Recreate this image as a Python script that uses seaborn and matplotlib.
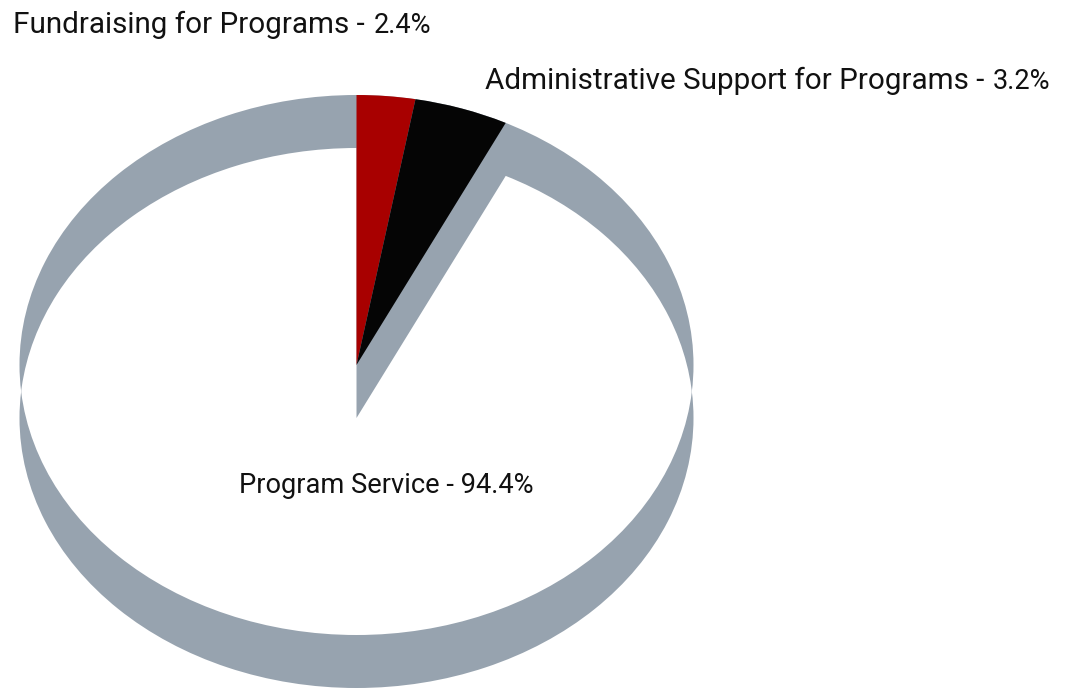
import matplotlib
matplotlib.use("Agg")
import matplotlib.pyplot as plt
from matplotlib.patches import Circle
import seaborn as sns

categories = ["Fundraising for Programs", "Administrative Support for Programs", "Program Service"]
labelled_values = ["2.4%", "3.2%", "94.4%"]
drawn_shares = [2.8, 4.5, 92.7]
colors = ["#A80000", "#050505", "#FFFFFF"]
band_color = "#97A3AF"

W, H = 1069, 688
CX, CY, RX, RY, DEPTH = 356.5, 365, 337, 270, 53

sns.set_theme(style="white")
plt.rcParams["font.family"] = ["Roboto", "DejaVu Sans"]

fig = plt.figure(figsize=(W / 100, H / 100), dpi=100, facecolor="white")
ax = fig.add_axes([0, 0, 1, 1])
lower = (0, -DEPTH / RY)
flat = {"linewidth": 0}

# grey body: union of the upper and the lower ellipse
ax.pie([1], colors=[band_color], startangle=90, radius=1, wedgeprops=flat)
ax.pie([1], colors=[band_color], startangle=90, radius=1, center=lower, wedgeprops=flat)

# white slice lies on the lower ellipse, clipped by the upper one
w_low, _ = ax.pie(drawn_shares, colors=colors, startangle=90, counterclock=False,
                  radius=1, center=lower, wedgeprops=flat)
w_low[0].set_visible(False)
w_low[1].set_visible(False)
clip = Circle((0, 0), 1, transform=ax.transData)
w_low[2].set_clip_on(True)
w_low[2].set_clip_path(clip)

# red and black slices lie on the upper ellipse
w_up, _ = ax.pie(drawn_shares, colors=colors, startangle=90, counterclock=False,
                 radius=1, wedgeprops=flat)
w_up[2].set_visible(False)

ax.set_aspect("auto")
ax.set_xlim((0 - CX) / RX, (W - CX) / RX)
ax.set_ylim((CY - H) / RY, CY / RY)
ax.axis("off")

def put(x, y, s, size, ha="left"):
    fig.text(x / W, 1 - y / H, s, fontsize=size, color="#111111", ha=ha, va="baseline")

put(13, 33, f"{categories[0]} -", 21.35)
put(431, 33, labelled_values[0], 19.5, ha="right")
put(485, 89, f"{categories[1]} -", 21.35)
put(1050, 89, labelled_values[1], 19.5, ha="right")
put(239, 493, f"{categories[2]} - {labelled_values[2]}", 19.6)

fig.savefig("out.png", dpi=100, facecolor="white")
